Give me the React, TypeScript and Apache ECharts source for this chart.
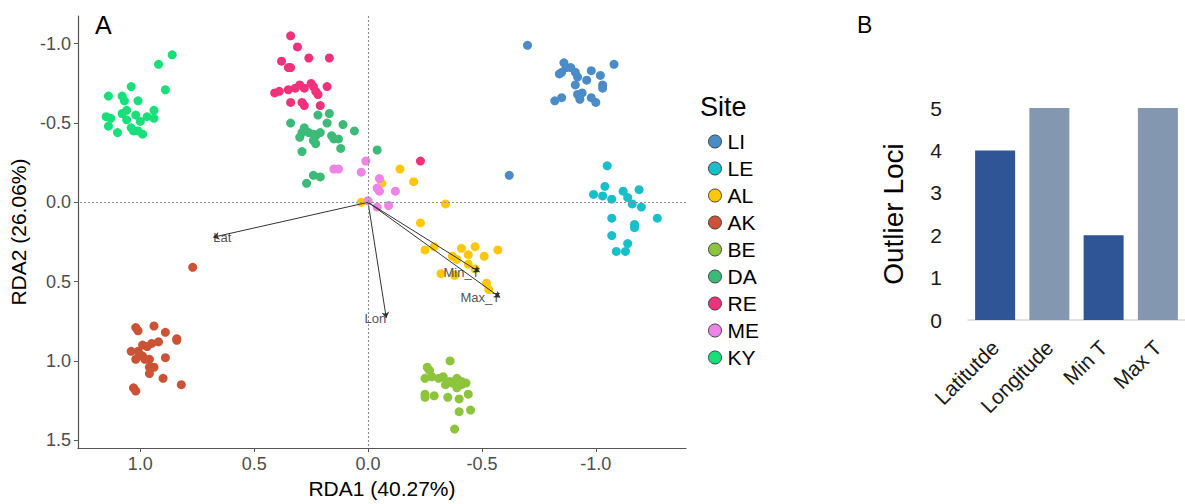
import React, { useEffect, useRef } from 'react';
import * as echarts from 'echarts';

const FONT = '"Liberation Sans", Arial, Helvetica, sans-serif';

// Sampling sites and their colours
const sites = ['LI', 'LE', 'AL', 'AK', 'BE', 'DA', 'RE', 'ME', 'KY'];
const siteColors = ['#4A8BC8', '#17BFCB', '#FFC709', '#CC5236', '#8CC43C', '#3CBB78', '#F2317D', '#EE84E8', '#17E07A'];

// Individual site scores [RDA1, RDA2]
const LI = [
  [-0.70, -0.99], [-1.08, -0.87], [-0.86, -0.88], [-0.87, -0.85], [-0.89, -0.85], [-0.84, -0.81],
  [-0.85, -0.82], [-0.91, -0.82], [-0.92, -0.79], [-0.98, -0.83], [-1.02, -0.80], [-0.96, -0.77],
  [-0.91, -0.74], [-1.03, -0.74], [-1.03, -0.72], [-0.82, -0.64], [-0.85, -0.66], [-0.92, -0.68],
  [-0.94, -0.69], [-0.93, -0.65], [-0.98, -0.66], [-1.00, -0.63], [-0.62, -0.17],
];
const LE = [
  [-1.05, -0.23], [-1.04, -0.10], [-0.99, -0.05], [-1.03, -0.04], [-1.07, -0.02], [-1.12, -0.07],
  [-1.14, -0.03], [-1.19, -0.08], [-1.16, 0.01], [-1.20, 0.03], [-1.27, 0.10], [-1.07, 0.10],
  [-1.17, 0.14], [-1.17, 0.16], [-1.07, 0.21], [-1.14, 0.26], [-1.09, 0.31], [-1.13, 0.31],
];
const AL = [
  [-0.14, -0.21], [-0.20, -0.13], [-0.06, -0.12], [0.03, 0.00], [-0.34, 0.01], [-0.23, 0.13],
  [-0.25, 0.30], [-0.29, 0.28], [-0.37, 0.34], [-0.39, 0.36], [-0.41, 0.29], [-0.44, 0.33],
  [-0.47, 0.28], [-0.51, 0.34], [-0.57, 0.30], [-0.44, 0.39], [-0.32, 0.45], [-0.38, 0.46],
  [-0.47, 0.42], [-0.52, 0.51], [-0.53, 0.55],
];
const AK = [
  [0.77, 0.41], [1.02, 0.79], [1.01, 0.81], [0.94, 0.78], [0.89, 0.82], [0.84, 0.86], [0.84, 0.87],
  [1.04, 0.94], [1.01, 0.94], [1.00, 0.96], [0.99, 0.90], [0.97, 0.91], [0.95, 0.89], [0.92, 0.88],
  [1.02, 0.99], [0.99, 0.97], [0.98, 0.99], [0.96, 0.99], [0.89, 0.98], [0.96, 1.04], [0.94, 1.04],
  [0.96, 1.08], [0.90, 1.11], [0.82, 1.15], [1.03, 1.17], [1.02, 1.19],
];
const BE = [
  [-0.36, 1.00], [-0.26, 1.04], [-0.27, 1.06], [-0.25, 1.11], [-0.28, 1.10], [-0.31, 1.11],
  [-0.33, 1.10], [-0.36, 1.13], [-0.37, 1.14], [-0.39, 1.11], [-0.41, 1.13], [-0.41, 1.15],
  [-0.43, 1.14], [-0.34, 1.15], [-0.39, 1.17], [-0.25, 1.21], [-0.25, 1.23], [-0.29, 1.22],
  [-0.35, 1.23], [-0.40, 1.24], [-0.44, 1.21], [-0.40, 1.32], [-0.45, 1.31], [-0.38, 1.43],
];
const DA = [
  [0.22, -0.55], [0.17, -0.56], [0.34, -0.50], [0.18, -0.50], [0.11, -0.49], [0.06, -0.45],
  [0.28, -0.47], [0.29, -0.44], [0.30, -0.41], [0.26, -0.44], [0.24, -0.43], [0.23, -0.42],
  [0.21, -0.44], [0.24, -0.39], [0.23, -0.37], [0.16, -0.42], [0.15, -0.40], [0.13, -0.40],
  [0.12, -0.34], [0.29, -0.32], [0.24, -0.17], [0.21, -0.16], [0.27, -0.12], [-0.04, -0.33],
];
const RE = [
  [0.34, -1.05], [0.31, -0.98], [0.26, -0.91], [0.17, -0.91], [0.38, -0.89], [0.35, -0.85],
  [0.34, -0.85], [0.41, -0.69], [0.39, -0.70], [0.35, -0.71], [0.32, -0.72], [0.30, -0.74],
  [0.28, -0.72], [0.25, -0.75], [0.24, -0.73], [0.23, -0.70], [0.22, -0.68], [0.18, -0.73],
  [0.34, -0.63], [0.29, -0.63], [0.28, -0.61], [0.21, -0.61], [-0.23, -0.26],
];
const ME = [
  [0.15, -0.21], [0.13, -0.21], [0.03, -0.19], [0.01, -0.26], [-0.05, -0.15], [-0.04, -0.09],
  [-0.05, -0.07], [-0.12, -0.07], [0.00, -0.01], [-0.04, 0.03], [-0.09, 0.02],
];
const KY = [
  [0.86, -0.93], [0.92, -0.87], [0.89, -0.71], [1.04, -0.73], [1.14, -0.67], [1.08, -0.67],
  [1.07, -0.64], [1.01, -0.64], [0.94, -0.58], [1.06, -0.58], [1.08, -0.56], [1.02, -0.55],
  [0.97, -0.54], [1.15, -0.54], [1.13, -0.53], [1.06, -0.52], [0.94, -0.53], [1.00, -0.51],
  [1.14, -0.48], [1.04, -0.47], [1.03, -0.45], [1.01, -0.45], [1.10, -0.44], [0.99, -0.43],
];
const siteScores = [LI, LE, AL, AK, BE, DA, RE, ME, KY];

// Environmental predictor biplot arrows
const envVars = ['Lat', 'Lon', 'Min_T', 'Max_T'];
const envScores = [[0.68, 0.22], [-0.08, 0.73], [-0.49, 0.44], [-0.58, 0.60]];

// Tick positions for the ordination axes
const rdaTicksX = [1, 0.5, 0, -0.5, -1];
const rdaTicksY = [-1, -0.5, 0, 0.5, 1, 1.5];

// Outlier loci per predictor
const lociCategories = ['Latitutde', 'Longitude', 'Min T', 'Max T'];
const lociCounts = [4, 5, 2, 5];
const lociColors = ['#2F5597', '#8497B0', '#2F5597', '#8497B0'];

export default function App() {
  const ref = useRef<HTMLDivElement>(null);

  useEffect(() => {
    if (!ref.current) return;
    const chart = echarts.init(ref.current, undefined, { renderer: 'svg' });
    const axisGray = '#555555';

    const siteSeries = sites.map((s, i) => ({
      type: 'scatter',
      name: s,
      xAxisIndex: 0,
      yAxisIndex: 0,
      data: siteScores[i],
      symbol: 'circle',
      symbolSize: 9,
      itemStyle: { color: siteColors[i], opacity: 1 },
      z: 2,
    }));

    const option: any = {
      animation: false,
      backgroundColor: '#ffffff',
      textStyle: { fontFamily: FONT },
      grid: [
        { left: 76, top: 16, width: 610, height: 436 },
        { left: 968, top: 108, width: 222, height: 212 },
      ],
      xAxis: [
        {
          type: 'value',
          gridIndex: 0,
          min: -1.396,
          max: 1.274,
          inverse: true,
          name: 'RDA1 (40.27%)',
          nameLocation: 'middle',
          nameGap: 28,
          nameTextStyle: { fontSize: 21, color: '#000', fontFamily: FONT },
          axisLine: { onZero: false, lineStyle: { color: axisGray, width: 1.2 } },
          axisTick: { show: true, length: 4, customValues: rdaTicksX, lineStyle: { color: axisGray } },
          axisLabel: {
            customValues: rdaTicksX,
            formatter: (v: number) => v.toFixed(1),
            fontSize: 18,
            color: '#4D4D4D',
            margin: 7,
            fontFamily: FONT,
          },
          splitLine: { show: false },
        },
        {
          type: 'category',
          gridIndex: 1,
          data: lociCategories,
          axisLine: { lineStyle: { color: '#D9D9D9', width: 1.5 } },
          axisTick: { show: false },
          axisLabel: { rotate: 45, interval: 0, fontSize: 21, color: '#1a1a1a', margin: 24, fontFamily: FONT },
        },
      ],
      yAxis: [
        {
          type: 'value',
          gridIndex: 0,
          min: -1.175,
          max: 1.55,
          inverse: true,
          name: 'RDA2 (26.06%)',
          nameLocation: 'middle',
          nameRotate: 90,
          nameGap: 43,
          nameTextStyle: { fontSize: 21, color: '#000', fontFamily: FONT },
          axisLine: { onZero: false, lineStyle: { color: axisGray, width: 1.2 } },
          axisTick: { show: true, length: 4, customValues: rdaTicksY, lineStyle: { color: axisGray } },
          axisLabel: {
            customValues: rdaTicksY,
            formatter: (v: number) => v.toFixed(1),
            fontSize: 18,
            color: '#4D4D4D',
            margin: 7,
            fontFamily: FONT,
          },
          splitLine: { show: false },
        },
        {
          type: 'value',
          gridIndex: 1,
          min: 0,
          max: 5,
          interval: 1,
          name: 'Outlier Loci',
          nameLocation: 'middle',
          nameRotate: 90,
          nameGap: 61,
          nameTextStyle: { fontSize: 28, color: '#000', fontFamily: FONT },
          axisLine: { show: false },
          axisTick: { show: false },
          axisLabel: { fontSize: 21, color: '#1a1a1a', margin: 26, fontFamily: FONT },
          splitLine: { show: false },
        },
      ],
      legend: {
        data: sites,
        orient: 'vertical',
        left: 703,
        top: 126,
        itemWidth: 13,
        itemHeight: 13,
        itemGap: 6,
        icon: 'circle',
        selectedMode: false,
        itemStyle: { borderColor: '#444', borderWidth: 1 },
        textStyle: { fontSize: 21, color: '#000', lineHeight: 21, padding: [0, 0, 0, 1], fontFamily: FONT },
      },
      graphic: [
        { type: 'text', left: 95, top: 12, style: { text: 'A', fontSize: 25, fill: '#000', fontFamily: FONT } },
        { type: 'text', left: 857, top: 13, style: { text: 'B', fontSize: 23, fill: '#000', fontFamily: FONT } },
        { type: 'text', left: 700, top: 93, style: { text: 'Site', fontSize: 27, fill: '#000', fontFamily: FONT } },
      ],
      series: [
        {
          type: 'scatter',
          name: 'zero',
          xAxisIndex: 0,
          yAxisIndex: 0,
          data: [],
          z: 1,
          markLine: {
            silent: true,
            symbol: 'none',
            label: { show: false },
            lineStyle: { type: [2, 2], color: '#8c8c8c', width: 1.1 },
            data: [{ xAxis: 0 }, { yAxis: 0 }],
          },
        },
        ...siteSeries,
        {
          type: 'lines',
          name: 'arrows',
          coordinateSystem: 'cartesian2d',
          xAxisIndex: 0,
          yAxisIndex: 0,
          data: envScores.map((p) => ({ coords: [[0, 0], p] })),
          symbol: ['none', 'arrow'],
          symbolSize: 6,
          lineStyle: { color: '#333', width: 1, opacity: 1 },
          z: 3,
          silent: true,
        },
        {
          type: 'scatter',
          name: 'envLabels',
          xAxisIndex: 0,
          yAxisIndex: 0,
          symbolSize: 0,
          silent: true,
          z: 4,
          data: envScores.map((p, i) => ({
            value: p,
            name: envVars[i],
            label: { align: p[0] > 0 ? 'left' : 'right' },
          })),
          label: {
            show: true,
            position: 'inside',
            formatter: '{b}',
            fontSize: 13,
            color: '#222',
            verticalAlign: 'middle',
            fontFamily: FONT,
          },
        },
        {
          type: 'bar',
          name: 'loci',
          xAxisIndex: 1,
          yAxisIndex: 1,
          barWidth: 40,
          data: lociCounts.map((v, i) => ({ value: v, itemStyle: { color: lociColors[i] } })),
        },
      ],
    };

    chart.setOption(option);
    return () => chart.dispose();
  }, []);

  return (
    <div
      ref={ref}
      style={{ position: 'absolute', left: 0, top: 0, width: 1185, height: 504, background: '#fff' }}
    />
  );
}
